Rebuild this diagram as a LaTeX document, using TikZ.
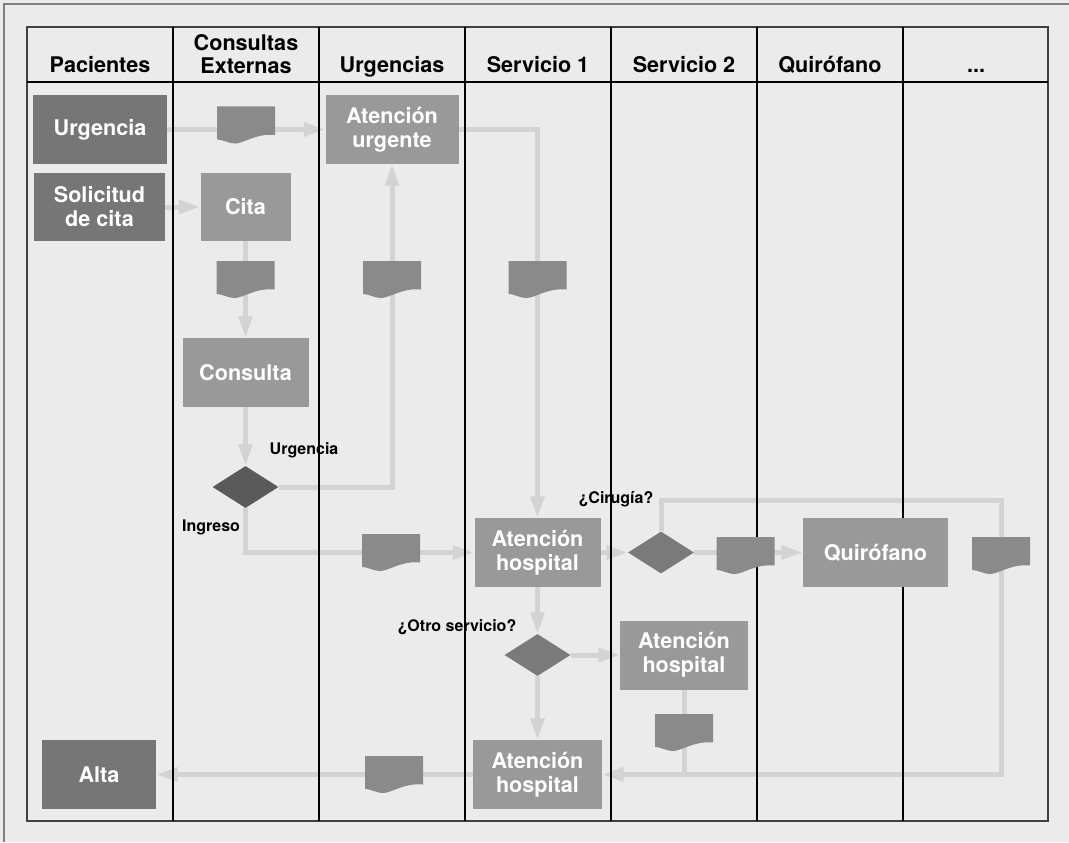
\documentclass[tikz,border=0pt]{standalone}
\usepackage{fontspec}
\setmainfont{TeX Gyre Heros}
\usetikzlibrary{shapes.geometric, arrows.meta, positioning}
\definecolor{bggray}{RGB}{235, 235, 235}
\definecolor{patgray}{RGB}{118, 118, 118}
\definecolor{procgray}{RGB}{153, 153, 153}
\definecolor{docgray}{RGB}{138, 138, 138}
\definecolor{decdark}{RGB}{90, 90, 90}
\definecolor{decgray}{RGB}{122, 122, 122}
\definecolor{flowgray}{RGB}{211, 211, 211}
\pgfdeclarelayer{bg}
\pgfdeclarelayer{lines}
\pgfdeclarelayer{grid}
\pgfsetlayers{bg, lines, grid, main}

\tikzset{
  boxsize/.style 2 args={minimum width=#1*0.75pt, minimum height=#2*0.75pt},
  proc/.style={rectangle, fill=procgray, text=white, inner sep=0pt, align=center,
    font=\bfseries\fontsize{16.2}{18}\selectfont},
  patient/.style={proc, fill=patgray},
  decision/.style={diamond, fill=decgray, inner sep=0pt, minimum width=66*0.75pt, minimum height=42*0.75pt},
  docu/.style={rectangle, inner sep=0pt, boxsize={58}{37},
    path picture={\begin{scope}[shift={(path picture bounding box.center)}]
      \fill[docgray] (-21.75pt, 13.9pt) -- (21.75pt, 13.9pt) -- (21.75pt, -7.5pt)
        .. controls (8pt, -6pt) and (-2pt, -13.9pt) .. (-8.3pt, -13.9pt)
        .. controls (-13pt, -13.9pt) and (-17pt, -11pt) .. (-21.75pt, -10.8pt) -- cycle;
    \end{scope}}},
  flow/.style={flowgray, line width=3.75pt},
  flowarrow/.style={flow, -{Triangle[length=16pt, width=10pt]}},
  lanehead/.style={font=\bfseries\fontsize{16.2}{17.5}\selectfont, align=center},
  note/.style={font=\bfseries\fontsize{12}{14}\selectfont}
}

\begin{document}
\begin{tikzpicture}[x=0.75pt, y=-0.75pt]
  \useasboundingbox (0, 0) rectangle (1069, 842);

  \begin{pgfonlayer}{bg}
    \fill[bggray] (0, 0) rectangle (1069, 842);
    \draw[gray, line width=1pt] (4, 842) -- (4, 4) -- (1069, 4);
  \end{pgfonlayer}

  % swimlanes
  \begin{pgfonlayer}{grid}
    \draw[black!75, line width=1.2pt] (27, 27) rectangle (1048, 821);
    \draw[black, line width=0.8pt] (27, 82) -- (1048, 82);
    \foreach \x in {173, 319, 465, 611, 757, 903}
      \draw[black, line width=0.8pt] (\x, 27) -- (\x, 821);
  \end{pgfonlayer}

  \node[lanehead, anchor=base] (hpac) at (100, 73) {Pacientes};
  \node[lanehead] (hcons) at (246, 54) {Consultas\\Externas};
  \node[lanehead, anchor=base] (hurg) at (392, 73) {Urgencias};
  \node[lanehead, anchor=base] (hserv1) at (538, 73) {Servicio 1};
  \node[lanehead, anchor=base] (hserv2) at (684, 73) {Servicio 2};
  \node[lanehead, anchor=base] (hquir) at (830, 73) {Quirófano};
  \node[lanehead, anchor=base] (hmore) at (976, 73) {...};

  % process boxes
  \node[patient, boxsize={134}{69}] (urg) at (100, 129.5) {Urgencia};
  \node[patient, boxsize={131}{68}] (sol) at (99.5, 207) {Solicitud\\de cita};
  \node[patient, boxsize={114}{69}] (alta) at (99, 774.5) {Alta};
  \node[proc, boxsize={133}{69}] (aturg) at (392, 129.5) {Atención\\urgente};
  \node[proc, boxsize={90}{68}] (cita) at (245.5, 207) {Cita};
  \node[proc, boxsize={126}{69}] (cons) at (245.5, 372.5) {Consulta};
  \node[proc, boxsize={126}{69}] (ah1) at (537.5, 552.5) {Atención\\hospital};
  \node[proc, boxsize={145}{69}] (quir) at (875.5, 552.5) {Quirófano};
  \node[proc, boxsize={128}{69}] (ah2) at (684, 655) {Atención\\hospital};
  \node[proc, boxsize={129}{69}] (ah3) at (537.5, 774.5) {Atención\\hospital};

  % decisions
  \node[decision, fill=decdark] (dia1) at (245.5, 487) {};
  \node[decision] (dia2) at (661, 552.5) {};
  \node[decision] (dia3) at (537.5, 655) {};

  % documents
  \node[docu] (d1) at (246, 125) {};
  \node[docu] (d2) at (245.5, 279.5) {};
  \node[docu] (d3) at (392, 279.5) {};
  \node[docu] (d4) at (391, 552.5) {};
  \node[docu] (d5) at (537.5, 279.5) {};
  \node[docu] (d6) at (745.5, 555.5) {};
  \node[docu] (d7) at (1001, 555.5) {};
  \node[docu] (d8) at (684, 732.5) {};
  \node[docu] (d9) at (394, 774.5) {};

  \coordinate (loopTR) at (1001, 500);

  \begin{pgfonlayer}{lines}
    \draw[flowarrow] (urg.east) -- (aturg.west);
    \draw[flowarrow] (sol.east) -- (cita.west);
    \draw[flowarrow] (cita.south) -- (cons.north);
    \draw[flowarrow] (cons.south) -- (dia1.north);
    \draw[flowarrow] (dia1.east) -| (aturg.south);
    \draw[flowarrow] (dia1.south) |- (ah1.west);
    \draw[flowarrow] (aturg.east) -| (ah1.north);
    \draw[flowarrow] (ah1.east) -- (dia2.west);
    \draw[flowarrow] (dia2.east) -- (quir.west);
    \draw[flowarrow] (dia2.north) |- (loopTR) |- (ah3.east);
    \draw[flowarrow] (ah1.south) -- (dia3.north);
    \draw[flowarrow] (dia3.east) -- (ah2.west);
    \draw[flowarrow] (dia3.south) -- (ah3.north);
    \draw[flow] (ah2.south) -- (ah2.south |- ah3.east);
    \draw[flowarrow] (ah3.west) -- (alta.east);

    \node[note] (lurg) at (304, 450) {Urgencia};
    \node[note] (ling) at (211, 527) {Ingreso};
    \node[note] (lcir) at (616, 499) {¿Cirugía?};
    \node[note] (lotro) at (457, 627) {¿Otro servicio?};
  \end{pgfonlayer}
\end{tikzpicture}
\end{document}
